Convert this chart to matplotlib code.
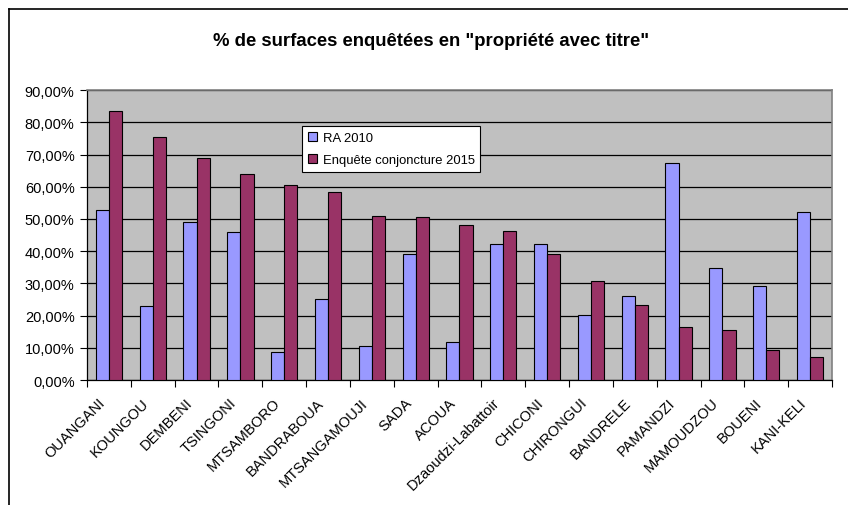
import matplotlib
matplotlib.use("Agg")
import matplotlib.pyplot as plt
import matplotlib.transforms as mtransforms
import numpy as np
from matplotlib.lines import Line2D
from matplotlib.ticker import FuncFormatter, MultipleLocator

communes = ['OUANGANI', 'KOUNGOU', 'DEMBENI', 'TSINGONI', 'MTSAMBORO', 'BANDRABOUA',
            'MTSANGAMOUJI', 'SADA', 'ACOUA', 'Dzaoudzi-Labattoir', 'CHICONI',
            'CHIRONGUI', 'BANDRELE', 'PAMANDZI', 'MAMOUDZOU', 'BOUENI', 'KANI-KELI']
ra_2010 = [52.9, 23.1, 49.1, 46.1, 8.7, 25.3, 10.6, 39.2, 11.7, 42.3, 42.3,
           20.3, 26.0, 67.5, 34.8, 29.1, 52.1]
enquete_2015 = [83.5, 75.5, 68.8, 63.8, 60.4, 58.4, 51.0, 50.7, 48.0, 46.4, 39.2,
                30.6, 23.4, 16.6, 15.5, 9.4, 7.2]
series_labels = ['RA 2010', 'Enquête conjoncture 2015']

plt.rcParams['font.family'] = ['Liberation Sans', 'DejaVu Sans']

fig = plt.figure(figsize=(8.48, 5.06), dpi=100)
ax = fig.add_axes([0.1026, 0.247, 0.8785, 0.573])

x = np.arange(len(communes))
w = 0.3
ax.bar(x - w / 2, ra_2010, w, color='#9999FF', edgecolor='black', linewidth=0.8,
       label=series_labels[0], zorder=3)
ax.bar(x + w / 2, enquete_2015, w, color='#993366', edgecolor='black', linewidth=0.8,
       label=series_labels[1], zorder=3)

ax.set_facecolor('#C0C0C0')
ax.set_xlim(-0.5, len(communes) - 0.5)
ax.set_ylim(0, 90)
ax.yaxis.set_major_locator(MultipleLocator(10))
ax.yaxis.set_major_formatter(FuncFormatter(lambda v, p: '{:.2f}%'.format(v).replace('.', ',')))
ax.yaxis.grid(True, color='black', linewidth=0.9, zorder=1)
ax.set_axisbelow(True)

# ticks at group boundaries, labels centred
ax.set_xticks(np.arange(len(communes) + 1) - 0.5)
ax.set_xticklabels([])
ax.set_xticks(x, minor=True)
ax.set_xticklabels(communes, minor=True, rotation=45, ha='right',
                   rotation_mode='anchor', fontsize=10.5)
ax.tick_params(axis='x', which='minor', length=0, pad=11)
ax.tick_params(axis='x', which='major', length=5, width=0.8, direction='out')
ax.tick_params(axis='y', length=5, width=0.8, labelsize=10.5, pad=4)

# nudge rotated labels left like Excel does
shift = mtransforms.ScaledTranslation(-0.11, 0.0, fig.dpi_scale_trans)
for lab in ax.get_xticklabels(minor=True):
    lab.set_transform(lab.get_transform() + shift)

for side in ['top', 'right']:
    ax.spines[side].set_color('#808080')
    ax.spines[side].set_linewidth(1.2)
for side in ['left', 'bottom']:
    ax.spines[side].set_color('black')
    ax.spines[side].set_linewidth(0.9)

leg = ax.legend(loc='upper left', bbox_to_anchor=(0.289, 0.876), fontsize=9.4,
                frameon=True, fancybox=False, edgecolor='black', framealpha=1,
                handlelength=0.7, handleheight=0.7, handletextpad=0.4,
                borderpad=0.45, labelspacing=0.75, borderaxespad=0)
leg.get_frame().set_linewidth(0.8)

fig.text(0.508, 0.917, '% de surfaces enquêtées en "propriété avec titre"',
         ha='center', va='center', fontsize=13.3, fontweight='bold')

# outer chart border (top and left)
fig.add_artist(Line2D([9 / 848, 1], [1 - 10 / 506, 1 - 10 / 506], color='black', linewidth=1.2))
fig.add_artist(Line2D([9 / 848, 9 / 848], [0, 1 - 10 / 506], color='black', linewidth=1.2))

fig.savefig('out.png', dpi=100)
